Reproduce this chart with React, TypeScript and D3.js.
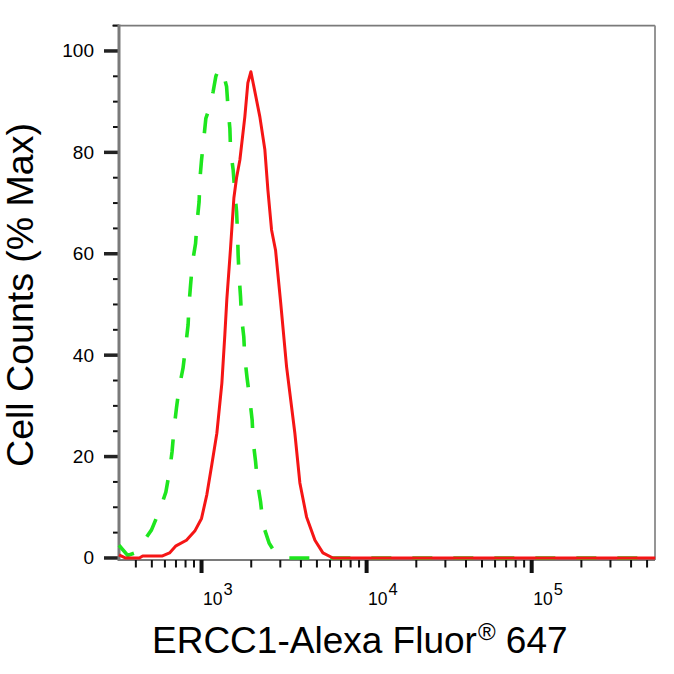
import React, { useEffect, useRef } from 'react';
import * as d3 from 'd3';

// [intensity, % of max]
const ercc1Curve: [number, number][] = [
  [316, 0.6], [345, 0], [420, 0], [440, 0.4], [580, 0.4], [640, 1.0], [700, 2.4],
  [810, 3.5], [910, 5.3], [1000, 7.8], [1077, 12.5], [1155, 18.5], [1238, 24.6],
  [1328, 34.5], [1384, 44], [1423, 51], [1498, 61], [1570, 71], [1630, 75],
  [1707, 78.5], [1829, 87], [1908, 93.7], [1991, 95.9], [2256, 87], [2419, 80.5],
  [2523, 72.6], [2656, 64.7], [2808, 60.7], [3013, 50.5], [3275, 37.7], [3676, 24.6],
  [3942, 14.8], [4327, 8.1], [4864, 3.5], [5435, 1.0], [6248, 0], [560000, 0],
];

const controlCurve: [number, number][] = [
  [316, 2.5], [357, 0.5], [394, 1.0], [423, 2.2], [497, 5.5], [559, 9.5], [608, 13],
  [642, 17.4], [663, 21], [682, 25.6], [705, 29.6], [731, 33.5], [773, 37.5],
  [803, 42], [829, 46], [841, 50.3], [858, 53.8], [882, 58.4], [920, 62], [940, 66.3],
  [967, 70.3], [977, 74.6], [1000, 78.5], [1033, 82.8], [1062, 86.7], [1123, 89],
  [1176, 92], [1221, 95], [1274, 96.6], [1353, 95.6], [1418, 93], [1450, 88.4],
  [1485, 84.7], [1499, 80.5], [1555, 76.5], [1592, 72], [1630, 68.3], [1653, 64],
  [1666, 59.8], [1690, 55.5], [1723, 51.5], [1746, 47.6], [1803, 43.6], [1830, 39.4],
  [1889, 35.4], [1962, 31.2], [2026, 27.2], [2055, 23], [2125, 19], [2185, 14.7],
  [2278, 11.1], [2362, 6.5], [2569, 2.9], [2820, 0.8], [3110, 0], [560000, 0],
];

const yMajorTicks = [0, 20, 40, 60, 80, 100];
const yMinorTicks = [5, 10, 15, 25, 30, 35, 45, 50, 55, 65, 70, 75, 85, 90, 95, 105];
const xDecades = [3, 4, 5];

const FONT = '"Liberation Sans", Arial, sans-serif';

export default function App() {
  const svgRef = useRef<SVGSVGElement>(null);

  useEffect(() => {
    if (!svgRef.current) return;
    const svg = d3.select(svgRef.current);
    svg.selectAll('*').remove();

    const left = 119, right = 655, top = 25.6, bottom = 560;

    const x = d3.scaleLog().domain([Math.pow(10, 2.5), Math.pow(10, 5.747)]).range([left, right]);
    const y = d3.scaleLinear().domain([-0.4, 105]).range([bottom, top]);

    // frame
    svg.append('line').attr('x1', 112).attr('x2', right).attr('y1', y(105)).attr('y2', y(105))
      .attr('stroke', '#7a7a7a').attr('stroke-width', 1.8);
    svg.append('line').attr('x1', right).attr('x2', right).attr('y1', y(105)).attr('y2', bottom)
      .attr('stroke', '#8a8a8a').attr('stroke-width', 1.8);
    svg.append('line').attr('x1', left).attr('x2', right).attr('y1', bottom).attr('y2', bottom)
      .attr('stroke', '#7a7a7a').attr('stroke-width', 2);

    // x minor ticks
    const [dMin, dMax] = x.domain();
    const minor: number[] = [];
    for (let k = 2; k <= 5; k++) {
      for (let m = 2; m <= 9; m++) {
        const v = m * Math.pow(10, k);
        if (v > dMin && v < dMax) minor.push(v);
      }
    }
    svg.selectAll('.xminor').data(minor).enter().append('line')
      .attr('x1', d => x(d)).attr('x2', d => x(d))
      .attr('y1', bottom).attr('y2', 567.5)
      .attr('stroke', '#111').attr('stroke-width', 2);
    svg.selectAll('.xmajor').data(xDecades).enter().append('line')
      .attr('x1', d => x(Math.pow(10, d))).attr('x2', d => x(Math.pow(10, d)))
      .attr('y1', bottom).attr('y2', 573)
      .attr('stroke', '#111').attr('stroke-width', 4);

    // x tick labels as 10^n
    const xl = svg.selectAll('.xlab').data(xDecades).enter().append('text')
      .attr('x', d => x(Math.pow(10, d)) + 1.5)
      .attr('y', 605)
      .attr('font-family', FONT)
      .attr('font-size', 17.5)
      .attr('fill', '#000');
    xl.append('tspan').text('10');
    xl.append('tspan').attr('font-size', 16.5).attr('dy', -10).attr('dx', 1).text(d => String(d));

    // y ticks
    svg.selectAll('.yminor').data(yMinorTicks).enter().append('line')
      .attr('x1', 113).attr('x2', left)
      .attr('y1', d => y(d)).attr('y2', d => y(d))
      .attr('stroke', '#111').attr('stroke-width', 2);
    svg.selectAll('.ymajor').data(yMajorTicks).enter().append('line')
      .attr('x1', 104).attr('x2', left)
      .attr('y1', d => y(d)).attr('y2', d => y(d))
      .attr('stroke', '#222').attr('stroke-width', 3.5);
    svg.selectAll('.ylab').data(yMajorTicks).enter().append('text')
      .attr('x', 94)
      .attr('y', d => y(d) - 6.5)
      .attr('dy', '0.68em')
      .attr('text-anchor', 'end')
      .attr('font-family', FONT)
      .attr('font-size', 19)
      .attr('fill', '#000')
      .text(d => String(d));

    // left axis line
    svg.append('line').attr('x1', left).attr('x2', left).attr('y1', y(105) - 1).attr('y2', bottom + 1)
      .attr('stroke', '#7a7a7a').attr('stroke-width', 3);

    const line = d3.line<[number, number]>()
      .x(d => x(d[0]))
      .y(d => y(d[1]));

    svg.append('path')
      .attr('d', line(controlCurve) as string)
      .attr('fill', 'none')
      .attr('stroke', '#1ee61e')
      .attr('stroke-width', 3.6)
      .attr('stroke-dasharray', '20 21');

    svg.append('path')
      .attr('d', line(ercc1Curve) as string)
      .attr('fill', 'none')
      .attr('stroke', '#f51515')
      .attr('stroke-width', 3)
      .attr('stroke-linejoin', 'round');

    // axis titles
    const xt = svg.append('text')
      .attr('x', 152)
      .attr('y', 653)
      .attr('font-family', FONT)
      .attr('font-size', 37)
      .attr('fill', '#000');
    xt.append('tspan').text('ERCC1-Alexa Fluor');
    xt.append('tspan').attr('font-size', 24).attr('dy', -13).attr('dx', 1).text('®');
    xt.append('tspan').attr('dy', 13).text(' 647');

    svg.append('text')
      .attr('transform', 'translate(33,295) rotate(-90)')
      .attr('text-anchor', 'middle')
      .attr('font-family', FONT)
      .attr('font-size', 37.5)
      .attr('fill', '#000')
      .text('Cell Counts (% Max)');
  }, []);

  return (
    <svg
      ref={svgRef}
      width={674}
      height={674}
      viewBox="0 0 674 674"
      style={{ position: 'absolute', left: 0, top: 0, background: '#fff' }}
    />
  );
}
